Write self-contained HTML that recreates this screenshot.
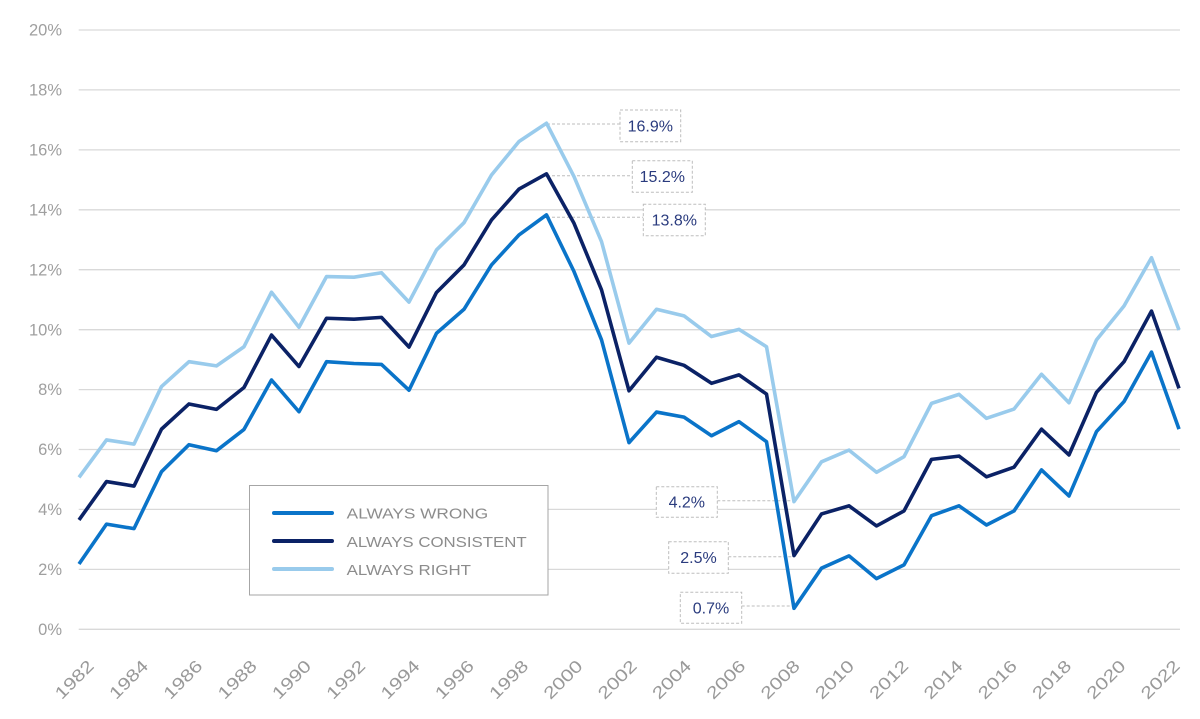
<!DOCTYPE html>
<html>
<head>
<meta charset="utf-8">
<style>
  html,body{margin:0;padding:0;background:#fff;}
  svg{display:block;}
  text{font-family:"Liberation Sans",sans-serif;}
</style>
</head>
<body>
<svg width="1200" height="719" viewBox="0 0 1200 719" xmlns="http://www.w3.org/2000/svg">
  <rect x="0" y="0" width="1200" height="719" fill="#fff"/>
  <!-- gridlines -->
  <g stroke="#d9d9d9" stroke-width="1.3">
    <line x1="78.7" y1="629.3" x2="1180" y2="629.3"/>
    <line x1="78.7" y1="569.4" x2="1180" y2="569.4"/>
    <line x1="78.7" y1="509.4" x2="1180" y2="509.4"/>
    <line x1="78.7" y1="449.5" x2="1180" y2="449.5"/>
    <line x1="78.7" y1="389.6" x2="1180" y2="389.6"/>
    <line x1="78.7" y1="329.7" x2="1180" y2="329.7"/>
    <line x1="78.7" y1="269.7" x2="1180" y2="269.7"/>
    <line x1="78.7" y1="209.8" x2="1180" y2="209.8"/>
    <line x1="78.7" y1="149.9" x2="1180" y2="149.9"/>
    <line x1="78.7" y1="89.9" x2="1180" y2="89.9"/>
    <line x1="78.7" y1="30.0" x2="1180" y2="30.0"/>
  </g>
  <!-- y labels -->
  <g fill="#9f9f9f" font-size="16.5" text-anchor="end">
    <text x="62" y="635">0%</text>
    <text x="62" y="575">2%</text>
    <text x="62" y="515">4%</text>
    <text x="62" y="455">6%</text>
    <text x="62" y="395">8%</text>
    <text x="62" y="335.3">10%</text>
    <text x="62" y="275.3">12%</text>
    <text x="62" y="215.4">14%</text>
    <text x="62" y="155.5">16%</text>
    <text x="62" y="95.5">18%</text>
    <text x="62" y="35.6">20%</text>
  </g>
  <!-- x labels -->
  <g fill="#999999" font-size="17" text-anchor="end">
    <text transform="translate(95,667) rotate(-45)" textLength="47" lengthAdjust="spacingAndGlyphs">1982</text>
    <text transform="translate(149.3,667) rotate(-45)" textLength="47" lengthAdjust="spacingAndGlyphs">1984</text>
    <text transform="translate(203.6,667) rotate(-45)" textLength="47" lengthAdjust="spacingAndGlyphs">1986</text>
    <text transform="translate(257.9,667) rotate(-45)" textLength="47" lengthAdjust="spacingAndGlyphs">1988</text>
    <text transform="translate(312.2,667) rotate(-45)" textLength="47" lengthAdjust="spacingAndGlyphs">1990</text>
    <text transform="translate(366.5,667) rotate(-45)" textLength="47" lengthAdjust="spacingAndGlyphs">1992</text>
    <text transform="translate(420.8,667) rotate(-45)" textLength="47" lengthAdjust="spacingAndGlyphs">1994</text>
    <text transform="translate(475.1,667) rotate(-45)" textLength="47" lengthAdjust="spacingAndGlyphs">1996</text>
    <text transform="translate(529.4,667) rotate(-45)" textLength="47" lengthAdjust="spacingAndGlyphs">1998</text>
    <text transform="translate(583.7,667) rotate(-45)" textLength="47" lengthAdjust="spacingAndGlyphs">2000</text>
    <text transform="translate(638,667) rotate(-45)" textLength="47" lengthAdjust="spacingAndGlyphs">2002</text>
    <text transform="translate(692.3,667) rotate(-45)" textLength="47" lengthAdjust="spacingAndGlyphs">2004</text>
    <text transform="translate(746.6,667) rotate(-45)" textLength="47" lengthAdjust="spacingAndGlyphs">2006</text>
    <text transform="translate(800.9,667) rotate(-45)" textLength="47" lengthAdjust="spacingAndGlyphs">2008</text>
    <text transform="translate(855.2,667) rotate(-45)" textLength="47" lengthAdjust="spacingAndGlyphs">2010</text>
    <text transform="translate(909.5,667) rotate(-45)" textLength="47" lengthAdjust="spacingAndGlyphs">2012</text>
    <text transform="translate(963.8,667) rotate(-45)" textLength="47" lengthAdjust="spacingAndGlyphs">2014</text>
    <text transform="translate(1018.1,667) rotate(-45)" textLength="47" lengthAdjust="spacingAndGlyphs">2016</text>
    <text transform="translate(1072.4,667) rotate(-45)" textLength="47" lengthAdjust="spacingAndGlyphs">2018</text>
    <text transform="translate(1126.7,667) rotate(-45)" textLength="47" lengthAdjust="spacingAndGlyphs">2020</text>
    <text transform="translate(1181,667) rotate(-45)" textLength="47" lengthAdjust="spacingAndGlyphs">2022</text>
  </g>
  <!-- leader lines -->
  <g stroke="#bdbdbd" stroke-width="1" stroke-dasharray="3,2" fill="none">
    <line x1="547" y1="124" x2="620" y2="124"/>
    <line x1="547" y1="175.7" x2="632.3" y2="175.7"/>
    <line x1="547" y1="217.3" x2="643.3" y2="217.3"/>
    <line x1="717.3" y1="500.7" x2="794.5" y2="500.7"/>
    <line x1="728.3" y1="556.7" x2="794.5" y2="556.7"/>
    <line x1="741.7" y1="606" x2="794.5" y2="606"/>
  </g>
  <!-- series -->
  <g transform="translate(79,629.3) scale(27.5,-29.965)" fill="none" stroke-linejoin="round" stroke-linecap="butt">
    <polyline vector-effect="non-scaling-stroke" stroke="#99cbec" stroke-width="3.6"
      points="0,5.07 1,6.32 2,6.18 3,8.10 4,8.93 5,8.79 6,9.43 7,11.25 8,10.08 9,11.77 10,11.75 11,11.90 12,10.92 13,12.66 14,13.57 15,15.16 16,16.28 17,16.89 18,15.11 19,12.94 20,9.55 21,10.68 22,10.46 23,9.77 24,10.01 25,9.43 26,4.26 27,5.59 28,5.98 29,5.24 30,5.76 31,7.54 32,7.84 33,7.04 34,7.35 35,8.51 36,7.56 37,9.66 38,10.79 39,12.40 40,9.99"/>
    <polyline vector-effect="non-scaling-stroke" stroke="#0b2266" stroke-width="3.6"
      points="0,3.65 1,4.93 2,4.78 3,6.68 4,7.52 5,7.34 6,8.07 7,9.82 8,8.77 9,10.38 10,10.35 11,10.41 12,9.42 13,11.24 14,12.16 15,13.66 16,14.69 17,15.20 18,13.55 19,11.33 20,7.96 21,9.08 22,8.81 23,8.21 24,8.49 25,7.85 26,2.46 27,3.85 28,4.12 29,3.45 30,3.95 31,5.67 32,5.78 33,5.09 34,5.41 35,6.68 36,5.82 37,7.91 38,8.93 39,10.62 40,8.04"/>
    <polyline vector-effect="non-scaling-stroke" stroke="#0a74c9" stroke-width="3.6"
      points="0,2.18 1,3.51 2,3.36 3,5.26 4,6.16 5,5.96 6,6.67 7,8.32 8,7.26 9,8.93 10,8.87 11,8.84 12,7.98 13,9.88 14,10.68 15,12.16 16,13.16 17,13.83 18,11.94 19,9.66 20,6.23 21,7.25 22,7.08 23,6.46 24,6.93 25,6.26 26,0.70 27,2.04 28,2.45 29,1.69 30,2.15 31,3.79 32,4.12 33,3.48 34,3.95 35,5.32 36,4.45 37,6.60 38,7.60 39,9.25 40,6.68"/>
  </g>
  <!-- annotation boxes -->
  <g fill="#fff" stroke="#bdbdbd" stroke-width="1" stroke-dasharray="3,2">
    <rect x="620" y="110" width="60.7" height="31.7"/>
    <rect x="632.3" y="160.7" width="60" height="31.6"/>
    <rect x="643.3" y="204.3" width="62" height="31.4"/>
    <rect x="656.3" y="486.7" width="61" height="30.6"/>
    <rect x="668.7" y="541.7" width="59.6" height="31.6"/>
    <rect x="680.3" y="592.3" width="61.4" height="31"/>
  </g>
  <g fill="#2a3b7e" font-size="16" text-anchor="middle">
    <text x="650.3" y="131.3">16.9%</text>
    <text x="662.3" y="182">15.2%</text>
    <text x="674.3" y="225.6">13.8%</text>
    <text x="686.8" y="507.7">4.2%</text>
    <text x="698.5" y="563">2.5%</text>
    <text x="711" y="613.5">0.7%</text>
  </g>
  <!-- legend -->
  <rect x="249.5" y="485.5" width="298.5" height="109.5" fill="#fff" stroke="#a6a6a6" stroke-width="1"/>
  <g stroke-width="4" stroke-linecap="round">
    <line x1="274" y1="513" x2="332" y2="513" stroke="#0a74c9"/>
    <line x1="274" y1="541" x2="332" y2="541" stroke="#0b2266"/>
    <line x1="274" y1="569" x2="332" y2="569" stroke="#99cbec"/>
  </g>
  <g fill="#8c8c8c" font-size="14.5">
    <text x="346.7" y="518.5" textLength="141.5" lengthAdjust="spacingAndGlyphs">ALWAYS WRONG</text>
    <text x="346.7" y="546.8" textLength="180" lengthAdjust="spacingAndGlyphs">ALWAYS CONSISTENT</text>
    <text x="346.7" y="575" textLength="124.3" lengthAdjust="spacingAndGlyphs">ALWAYS RIGHT</text>
  </g>
</svg>
</body>
</html>
